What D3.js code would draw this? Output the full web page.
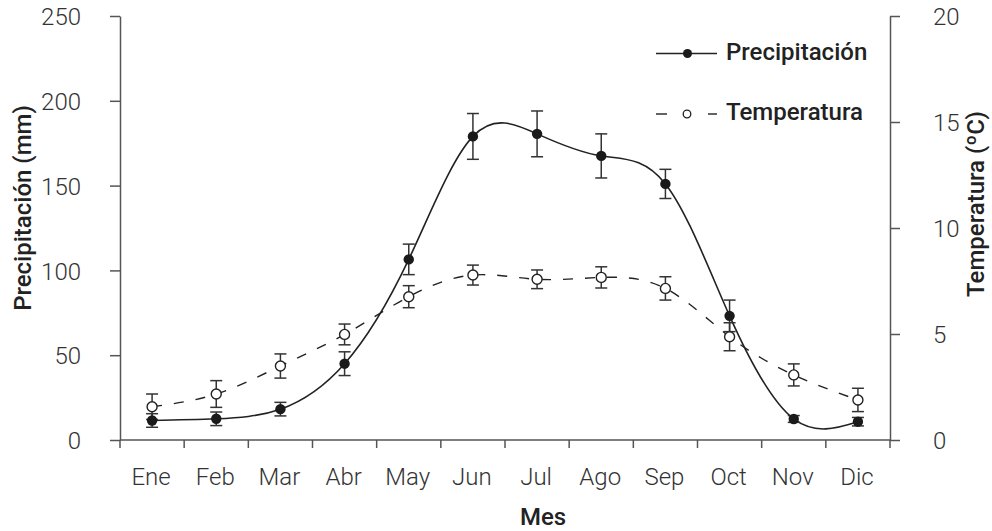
<!DOCTYPE html>
<html><head><meta charset="utf-8">
<script src="https://cdn.jsdelivr.net/npm/d3@7"></script>
<style>
body{margin:0;background:#fff;}
text{font-family:Roboto,"Noto Sans",sans-serif;}
</style></head>
<body><svg id="c" width="992" height="531"></svg>
<script>
const months = ["Ene","Feb","Mar","Abr","May","Jun","Jul","Ago","Sep","Oct","Nov","Dic"];
const precip = [11.5,12.5,18.2,45,106.5,179,180.5,167.5,151,73.2,12.4,10.8];
const precipErr = [4,4,4,7,9,13.5,13.5,13,8.6,9.3,2,2.5];
const temp = [1.57,2.17,3.49,4.98,6.76,7.78,7.58,7.67,7.15,4.87,3.07,1.89];
const tempErr = [0.6,0.63,0.57,0.49,0.52,0.47,0.44,0.5,0.55,0.66,0.52,0.55];
const precipTicks = [0,50,100,150,200,250];
const tempTicks = [0,5,10,15,20];

const svg = d3.select("#c");
const L=120, R=890, T=16, B=440;
const x = d3.scaleBand().domain(months).range([L,R]);
const yP = d3.scaleLinear().domain([0,250]).range([B,T]);
const yT = d3.scaleLinear().domain([0,20]).range([B,T]);
const axisCol="#555";
const FS=24;

function styleAxis(g){
  g.selectAll("path,line").attr("stroke",axisCol).attr("stroke-width",1.5);
  g.selectAll("text").attr("fill","#333").attr("font-size",FS).attr("font-weight",300);
}
// x axis with ticks at category boundaries
const gx = svg.append("g").attr("transform",`translate(0,${B})`);
gx.append("line").attr("x1",L).attr("x2",R).attr("y1",0).attr("y2",0).attr("stroke",axisCol).attr("stroke-width",1.5);
const bounds = months.map(m=>x(m)).concat([R]);
gx.selectAll("line.t").data(bounds).join("line").attr("class","t")
  .attr("x1",d=>d).attr("x2",d=>d).attr("y1",0).attr("y2",8).attr("stroke",axisCol).attr("stroke-width",1.5);
gx.selectAll("text").data(months).join("text")
  .attr("x",d=>x(d)+x.bandwidth()/2-1).attr("y",45).attr("text-anchor","middle")
  .attr("fill","#333").attr("font-size",FS).attr("font-weight",300).text(d=>d);

const gl = svg.append("g").attr("transform",`translate(${L},0)`)
  .call(d3.axisLeft(yP).tickValues(precipTicks).tickSize(10).tickPadding(29).tickSizeOuter(0));
styleAxis(gl);
const gr = svg.append("g").attr("transform",`translate(${R},0)`)
  .call(d3.axisRight(yT).tickValues(tempTicks).tickSize(10).tickPadding(33).tickSizeOuter(0));
styleAxis(gr);
gl.selectAll("text").attr("dy","0.36em");
gr.selectAll("text").attr("dy","0.36em");

// titles
svg.append("text").attr("transform",`translate(31,208) rotate(-90)`).attr("text-anchor","middle")
  .attr("font-size",FS).attr("font-weight",500).attr("fill","#222").text("Precipitación (mm)");
svg.append("text").attr("transform",`translate(984,204) rotate(-90)`).attr("text-anchor","middle")
  .attr("font-size",FS).attr("font-weight",500).attr("fill","#222").text("Temperatura (ºC)");
svg.append("text").attr("x",543).attr("y",525).attr("text-anchor","middle")
  .attr("font-size",FS).attr("font-weight",500).attr("fill","#222").text("Mes");

const cx = i=>x(months[i])+x.bandwidth()/2;
// lines
const lineP = d3.line().x((d,i)=>cx(i)).y(d=>yP(d)).curve(d3.curveNatural);
const lineT = d3.line().x((d,i)=>cx(i)).y(d=>yT(d)).curve(d3.curveNatural);
svg.append("path").attr("d",lineT(temp)).attr("fill","none").attr("stroke","#222").attr("stroke-width",1.4).attr("stroke-dasharray","10,12");
svg.append("path").attr("d",lineP(precip)).attr("fill","none").attr("stroke","#222").attr("stroke-width",1.6);

function errBars(vals,errs,y){
  const g=svg.append("g").attr("stroke","#333").attr("stroke-width",1.5);
  vals.forEach((v,i)=>{
    const c=cx(i);
    g.append("line").attr("x1",c).attr("x2",c).attr("y1",y(v-errs[i])).attr("y2",y(v+errs[i]));
    g.append("line").attr("x1",c-6).attr("x2",c+6).attr("y1",y(v-errs[i])).attr("y2",y(v-errs[i]));
    g.append("line").attr("x1",c-6).attr("x2",c+6).attr("y1",y(v+errs[i])).attr("y2",y(v+errs[i]));
  });
}
errBars(temp,tempErr,yT);
errBars(precip,precipErr,yP);
svg.append("g").selectAll("circle").data(temp).join("circle")
  .attr("cx",(d,i)=>cx(i)).attr("cy",d=>yT(d)).attr("r",5).attr("fill","#fff").attr("stroke","#222").attr("stroke-width",1.4);
svg.append("g").selectAll("circle").data(precip).join("circle")
  .attr("cx",(d,i)=>cx(i)).attr("cy",d=>yP(d)).attr("r",5.2).attr("fill","#1a1a1a");

// legend
const lg = svg.append("g");
lg.append("line").attr("x1",656).attr("x2",717).attr("y1",53.5).attr("y2",53.5).attr("stroke","#222").attr("stroke-width",1.6);
lg.append("circle").attr("cx",687.5).attr("cy",53.5).attr("r",4.5).attr("fill","#1a1a1a");
lg.append("text").attr("x",726).attr("y",59.5).attr("font-size",FS).attr("font-weight",500).attr("fill","#222").text("Precipitación");
lg.append("line").attr("x1",656).attr("x2",667).attr("y1",114).attr("y2",114).attr("stroke","#222").attr("stroke-width",1.4);
lg.append("line").attr("x1",708).attr("x2",717).attr("y1",114).attr("y2",114).attr("stroke","#222").attr("stroke-width",1.4);
lg.append("circle").attr("cx",687).attr("cy",114).attr("r",3.8).attr("fill","#fff").attr("stroke","#222").attr("stroke-width",1.3);
lg.append("text").attr("x",726).attr("y",120).attr("font-size",FS).attr("font-weight",500).attr("fill","#222").text("Temperatura");
</script></body></html>
